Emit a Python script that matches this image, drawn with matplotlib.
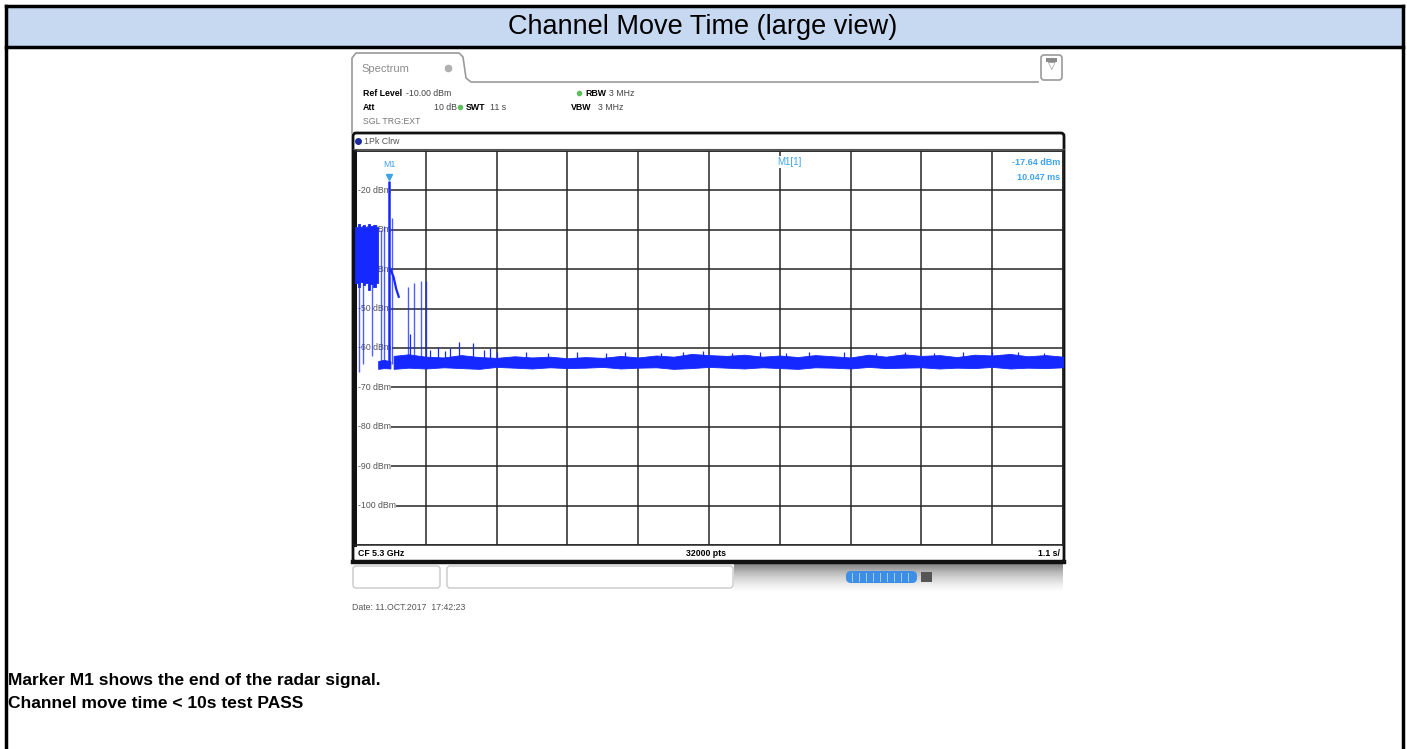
import matplotlib
matplotlib.use('Agg')
import matplotlib.pyplot as plt
from matplotlib.patches import Rectangle, FancyBboxPatch
import numpy as np

W, H = 1407, 749
plt.rcParams['font.family'] = ['Liberation Sans', 'DejaVu Sans']

# ---- trace readings (time in s, level in dBm) ----
sweep_time = 11.0
ref_level = -10.0
y_ticks = [-20, -30, -40, -50, -60, -70, -80, -90, -100]

# radar burst block at the start of the sweep
burst_t = [0.0, 0.04, 0.08, 0.12, 0.16, 0.20, 0.24, 0.28, 0.32, 0.36]
burst_hi = [-29.2, -28.6, -29.4, -28.9, -29.3, -28.5, -29.1, -28.7, -29.4, -29.4]
burst_lo = [-43.6, -44.6, -43.2, -44.1, -43.5, -45.2, -43.7, -44.4, -43.4, -43.4]

# single pulses after the burst
pulse_t = [0.06, 0.12, 0.27, 0.40, 0.45, 0.57, 0.82, 0.92, 1.02, 1.11]
pulse_lo = [-66.0, -64.0, -62.0, -64.0, -64.0, -64.0, -64.5, -64.5, -64.5, -64.5]
pulse_hi = [-29.0, -29.0, -29.0, -30.0, -29.0, -27.0, -44.5, -43.5, -43.0, -43.0]

# slow decay next to the last pulse group
decay_t = [0.55, 0.60, 0.64, 0.68]
decay_y = [-40.0, -42.0, -45.0, -47.0]

# marker M1
m1_t = 0.53
m1_level = -17.64
m1_floor = -64.0

# short noise piece between burst and M1
gap_t = [0.36, 0.45, 0.55]
gap_hi = [-63.3, -63.0, -63.4]
gap_lo = [-65.3, -65.1, -65.2]

# noise floor envelope
floor_t = [0.60, 0.83, 1.10, 1.38, 1.65, 1.93, 2.20, 2.48, 2.75, 3.03, 3.30, 3.58, 3.85,
           4.13, 4.40, 4.68, 4.95, 5.23, 5.50, 5.78, 6.05, 6.33, 6.60, 6.88, 7.15, 7.43,
           7.70, 7.98, 8.25, 8.53, 8.80, 9.08, 9.35, 9.63, 9.90, 10.18, 10.45, 10.73, 11.00]
floor_hi = [-62.0, -61.6, -62.2, -62.4, -61.8, -62.3, -62.5, -62.1, -62.4, -62.2, -62.6, -62.3, -62.5,
            -62.0, -62.4, -61.9, -62.2, -61.5, -61.8, -62.0, -61.7, -62.2, -61.9, -62.3, -61.8, -62.1,
            -62.4, -61.7, -62.2, -61.6, -62.0, -61.8, -62.3, -61.7, -61.9, -61.5, -62.1, -61.8, -62.2]
floor_lo = [-65.3, -65.0, -65.2, -64.9, -65.1, -65.3, -64.8, -65.0, -65.2, -64.9, -65.1, -65.0, -64.8,
            -65.2, -65.0, -64.9, -65.3, -65.1, -64.8, -65.0, -65.2, -64.9, -65.1, -65.3, -64.9, -65.0,
            -65.2, -64.8, -65.1, -65.0, -64.9, -65.2, -65.0, -65.1, -64.8, -65.2, -65.0, -65.1, -64.9]

# small spurs sticking out of the floor
spur_t = [0.86, 1.17, 1.29, 1.40, 1.47, 1.62, 1.83, 2.01, 2.10, 2.20, 2.65, 3.00, 3.45, 3.90,
          4.20, 4.75, 5.10, 5.40, 5.85, 6.30, 6.70, 7.05, 7.60, 8.10, 8.55, 9.00, 9.45, 9.90,
          10.30, 10.70]
spur_hi = [-56.5, -60.5, -59.8, -60.8, -60.0, -58.5, -58.8, -60.5, -60.0, -61.0, -61.1, -61.2,
           -61.0, -61.3, -61.0, -61.2, -60.9, -60.8, -61.3, -61.0, -61.2, -60.9, -61.1, -61.2,
           -61.0, -61.3, -61.1, -61.0, -60.9, -61.2]

trace_col = '#1428ff'
mark_col = '#3fa3ea'

fig = plt.figure(figsize=(W / 100, H / 100), dpi=100)

# ---- page / table around the screenshot ----
doc = fig.add_axes([0, 0, 1, 1])
doc.set_zorder(0)
doc.axis('off')

doc.add_patch(Rectangle((6, 6), 1397, 40, fc='#c6d9f1', ec='none'))
doc.plot([6, 1403], [6, 6], color='black', lw=2.5)
doc.plot([6, 1403], [46.5, 46.5], color='black', lw=2.5)
doc.plot([6, 6], [6, 749], color='black', lw=2.5)
doc.plot([1403, 1403], [6, 749], color='black', lw=2.5)
doc.text(703, 27, 'Channel Move Time (large view)', ha='center', va='center', fontsize=19.5)

# instrument tab and settings area
gray_line = '#9a9a9a'
doc.plot([352, 352, 356, 459, 463, 466, 471, 1038], [133, 58, 53, 53, 57, 78, 82, 82],
         color=gray_line, lw=1.2)
doc.add_patch(FancyBboxPatch((1041, 55), 21, 25, boxstyle='round,pad=0,rounding_size=3',
                             fc='white', ec=gray_line, lw=1.2))
doc.text(1051.5, 66, '\u25bd', ha='center', va='center', fontsize=7, color='#777777')
doc.add_patch(Rectangle((1046, 58), 11, 4, fc='#8a8a8a', ec='none'))

doc.text(361, 69, 'Spectrum', fontsize=8, color='#8c8c8c', va='center')
doc.plot([448], [68], 'o', ms=4.5, color='#b0b0b0')

small = 6.3
doc.text(363, 93, 'Ref Level', fontsize=small, fontweight='bold', va='center')
doc.text(406, 93, '-10.00 dBm', fontsize=small, va='center', color='#444444')
doc.plot([579], [93], 'o', ms=3, color='#5fbf5f')
doc.text(585, 93, 'RBW', fontsize=small, fontweight='bold', va='center')
doc.text(609, 93, '3 MHz', fontsize=small, va='center', color='#444444')
doc.text(363, 107, 'Att', fontsize=small, fontweight='bold', va='center')
doc.text(434, 107, '10 dB', fontsize=small, va='center', color='#444444')
doc.plot([460], [107], 'o', ms=3, color='#5fbf5f')
doc.text(466, 107, 'SWT', fontsize=small, fontweight='bold', va='center')
doc.text(490, 107, '11 s', fontsize=small, va='center', color='#444444')
doc.text(571, 107, 'VBW', fontsize=small, fontweight='bold', va='center')
doc.text(598, 107, '3 MHz', fontsize=small, va='center', color='#444444')
doc.text(363, 122, 'SGL TRG:EXT', fontsize=small, va='center', color='#777777')

# plot frame
doc.add_patch(FancyBboxPatch((353, 133), 711, 429, boxstyle='round,pad=0,rounding_size=3',
                             fc='white', ec='#111111', lw=2.0))
doc.plot([353, 1064], [562, 562], color='#111111', lw=3.2)
doc.plot([358], [141], 'o', ms=4, color='#1a2a9a')
doc.text(364, 141, '1Pk Clrw', fontsize=small, va='center', color='#555555')
doc.plot([353, 1064], [149, 149], color='#555555', lw=0.8)

# footer of the trace window
doc.text(358, 554, 'CF 5.3 GHz', fontsize=small, va='center', fontweight='bold')
doc.text(706, 554, '32000 pts', fontsize=small, va='center', ha='center', fontweight='bold')
doc.text(1060, 554, '1.1 s/', fontsize=small, va='center', ha='right', fontweight='bold')

# status bar
doc.add_patch(FancyBboxPatch((353, 566), 87, 22, boxstyle='round,pad=0,rounding_size=3',
                             fc='white', ec='#c8c8c8', lw=1))
doc.add_patch(FancyBboxPatch((447, 566), 286, 22, boxstyle='round,pad=0,rounding_size=3',
                             fc='white', ec='#c8c8c8', lw=1))
shade = np.linspace(0.55, 0.0, 30).reshape(-1, 1)
doc.imshow(shade, extent=(734, 1063, 592, 564), cmap='Greys', vmin=0, vmax=1, aspect='auto')
doc.add_patch(FancyBboxPatch((846, 571), 71, 12, boxstyle='round,pad=0,rounding_size=5',
                             fc='#3d8fe6', ec='none'))
for xs in np.arange(852, 915, 7):
    doc.plot([xs, xs], [573, 581], color='#a9cdf5', lw=0.7)
doc.add_patch(Rectangle((921, 572), 11, 10, fc='#555555', ec='none'))

doc.text(352, 607, 'Date: 11.OCT.2017  17:42:23', fontsize=6.3, va='center', color='#555555')

doc.text(8, 681, 'Marker M1 shows the end of the radar signal.', fontsize=12.5,
         fontweight='bold', va='center')
doc.text(8, 703, 'Channel move time < 10s test PASS', fontsize=12.5,
         fontweight='bold', va='center')

doc.set_xlim(0, W)
doc.set_ylim(H, 0)

# ---- trace window ----
ax = fig.add_axes([355 / W, 1 - 545 / H, 708 / W, 394 / H])
ax.set_zorder(1)
ax.set_xlim(0, sweep_time)
ax.set_ylim(ref_level - 100, ref_level)
ax.set_xticks(np.linspace(0, sweep_time, 11))
ax.set_yticks(np.arange(ref_level - 100, ref_level + 1, 10))
ax.grid(True, color='#262626', lw=1.1)
ax.set_axisbelow(True)
ax.tick_params(length=0, labelbottom=False, labelleft=False)
for s in ax.spines.values():
    s.set_color('#262626')
    s.set_linewidth(1.1)
ax.spines['left'].set_linewidth(2.2)
ax.spines['left'].set_color('#111111')

for lv in y_ticks:
    ax.text(0.04, lv, f'{lv} dBm', fontsize=6.3, color='#555555', va='center', ha='left',
            zorder=1.5, bbox=dict(fc='white', ec='none', pad=0.6))

ax.fill_between(burst_t, burst_lo, burst_hi, step='post', color=trace_col, lw=0.6, zorder=3)
ax.fill_between(gap_t, gap_lo, gap_hi, color=trace_col, lw=0.6, zorder=3)
ax.fill_between(floor_t, floor_lo, floor_hi, color=trace_col, lw=0.6, zorder=3)
ax.vlines(pulse_t, pulse_lo, pulse_hi, color=trace_col, lw=1.0, alpha=0.75, zorder=3)
ax.vlines([m1_t], [m1_floor], [m1_level], color=trace_col, lw=1.8, zorder=3)
ax.plot(decay_t, decay_y, color=trace_col, lw=1.6, zorder=3)
ax.vlines(spur_t, -63.5, spur_hi, color=trace_col, lw=0.9, zorder=3)

# marker M1 and its readout
ax.plot([m1_t], [m1_level + 1.0], marker='v', ms=5, color=mark_col, zorder=4)
ax.text(m1_t, m1_level + 3.0, 'M1', fontsize=6.3, color=mark_col, ha='center', va='bottom', zorder=4)
ax.text(6.75, -12.8, 'M1[1]', fontsize=7, color=mark_col, ha='center', va='center', zorder=4,
        bbox=dict(fc='white', ec='none', pad=0.8))
ax.text(10.95, -12.8, f'{m1_level:.2f} dBm', fontsize=6.5, color=mark_col, ha='right',
        va='center', fontweight='bold', zorder=4, bbox=dict(fc='white', ec='none', pad=0.5))
ax.text(10.95, -16.8, '10.047 ms', fontsize=6.5, color=mark_col, ha='right',
        va='center', fontweight='bold', zorder=4, bbox=dict(fc='white', ec='none', pad=0.5))

fig.savefig('out.png', dpi=100)
